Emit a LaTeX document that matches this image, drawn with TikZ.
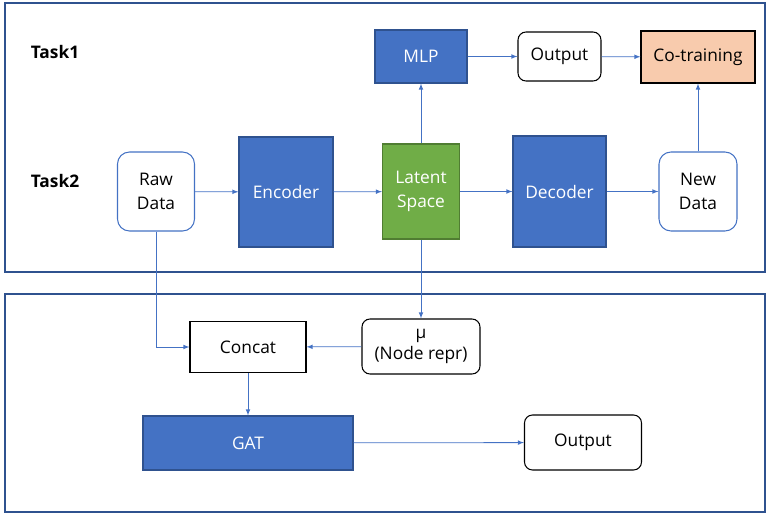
\documentclass[tikz,border=0pt]{standalone}
\usepackage{fontspec}
\setmainfont{Open Sans}
\usetikzlibrary{arrows}

\definecolor{boxblue}{RGB}{68,114,196}
\definecolor{edgeblue}{RGB}{47,82,143}
\definecolor{latentgreen}{RGB}{112,173,71}
\definecolor{latentedge}{RGB}{80,125,50}
\definecolor{peach}{RGB}{248,203,173}

\begin{document}
\begin{tikzpicture}[x=0.75pt,y=-0.75pt]
				\tikzstyle{every node}=[font=\fontsize{13}{15.6}\selectfont,align=center,inner sep=0pt]
				\tikzstyle{block}=[rectangle,draw=edgeblue,fill=boxblue,text=white,line width=0.8pt]
				\tikzstyle{latent}=[rectangle,draw=latentedge,fill=latentgreen,text=white,line width=0.8pt]
				\tikzstyle{data}=[rectangle,rounded corners=9pt,draw=boxblue,fill=white,line width=0.8pt]
				\tikzstyle{result}=[rectangle,rounded corners=6pt,draw=black,fill=white,line width=0.8pt]
				\tikzstyle{plain}=[rectangle,draw=black,fill=white,line width=0.8pt]
				\tikzstyle{frame}=[draw=edgeblue,line width=0.9pt]
				\tikzstyle{flow}=[draw=boxblue,line width=0.6pt,-latex]
				
				\useasboundingbox (0,0) rectangle (769,514);
				\draw[frame] (5,3) rectangle (765,272);
				\draw[frame] (5,294) rectangle (765,512);
				
				\node[font=\fontsize{13}{15.6}\selectfont\bfseries] (task1) at (55,52) {Task1};
				\node[font=\fontsize{13}{15.6}\selectfont\bfseries] (task2) at (55,181) {Task2};
				
				\node[block,minimum width=69pt,minimum height=39.75pt] (mlp) at (421,56.5) {MLP};
				\node[result,minimum width=62.25pt,minimum height=36.75pt] (out1) at (559.5,56.5) {Output};
				\node[plain,fill=peach,minimum width=85.5pt,minimum height=39pt] (cotrain) at (698,57) {Co-training};
				
				\node[data,minimum width=57.75pt,minimum height=59.25pt] (raw) at (156,191.5) {Raw\\[2pt]Data};
				\node[block,minimum width=70.5pt,minimum height=82.5pt] (enc) at (286,192) {Encoder};
				\node[latent,minimum width=57.75pt,minimum height=71.25pt] (lat) at (421,191.5) {Latent\\[2pt]Space};
				\node[block,minimum width=69.75pt,minimum height=83.25pt] (dec) at (559.5,191.5) {Decoder};
				\node[data,minimum width=58.5pt,minimum height=59.25pt] (new) at (698,191.5) {New\\[2pt]Data};
				
				\node[plain,minimum width=87pt,minimum height=38.25pt] (concat) at (248,347) {Concat};
				\node[result,minimum width=88.5pt,minimum height=41.25pt] (mu) at (421,346.5) {μ\\(Node repr)};
				\node[block,minimum width=157.5pt,minimum height=40.5pt] (gat) at (248,443) {GAT};
				\node[result,minimum width=87.75pt,minimum height=41.25pt] (out2) at (583,442.5) {Output};
				
				\draw[flow] (raw) -- (enc);
				\draw[flow] (enc) -- (lat);
				\draw[flow] (lat) -- (dec);
				\draw[flow] (dec) -- (new);
				\draw[flow] (lat) -- (mlp);
				\draw[flow] (mlp) -- (out1);
				\draw[flow] (out1) -- (cotrain);
				\draw[flow] (new) -- (cotrain);
				\draw[flow] (lat) -- (mu);
				\draw[flow] (raw.south) |- (concat.west);
				\draw[flow] (mu) -- (concat);
				\draw[flow] (concat) -- (gat);
				\draw[flow] (gat) -- (out2);
\end{tikzpicture}
\end{document}
